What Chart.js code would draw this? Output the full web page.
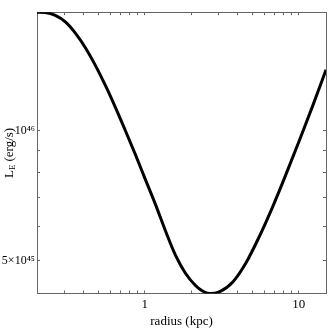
<!DOCTYPE html>
<html><head><meta charset="utf-8">
<script src="https://cdn.jsdelivr.net/npm/chart.js@4.4.1/dist/chart.umd.min.js"></script>
<style>html,body{margin:0;padding:0;background:#fff}#wrap{width:332px;height:332px;position:relative}</style>
</head><body><div id="wrap"><canvas id="c"></canvas></div>
<script>
// radius in kpc
const radius = [0.2, 0.2265, 0.2631, 0.3055, 0.3548, 0.4119, 0.4784, 0.5556, 0.6452, 0.7495, 0.8702, 1.0105, 1.1735, 1.3625, 1.5825, 1.8374, 2.1342, 2.3696, 2.6315, 3.0553, 3.7273, 4.5526, 5.5555, 6.7812, 8.2826, 10.104, 12.329, 15.0];
// L_E in erg/s
const luminosity = [1.8876e46, 1.8846e46, 1.8555e46, 1.7918e46, 1.6873e46, 1.5608e46, 1.4202e46, 1.2760e46, 1.1346e46, 1.0010e46, 0.8810e46, 0.7709e46, 0.6752e46, 0.5862e46, 0.5145e46, 0.4670e46, 0.4374e46, 0.4247e46, 0.4190e46, 0.4229e46, 0.4457e46, 0.4947e46, 0.5696e46, 0.6682e46, 0.7957e46, 0.9526e46, 1.1465e46, 1.3873e46];

const xTickValues = [0.3, 0.4, 0.5, 0.6, 0.7, 0.8, 0.9, 1, 2, 3, 4, 5, 6, 7, 8, 9, 10];
const xLabelValues = [1, 10];
const xLabelTexts = ['1', '10'];
const yTickValues = [5e45, 6e45, 7e45, 8e45, 9e45, 1e46];
const yLabelValues = [5e45, 1e46];
const yLabelTexts = ['5×10⁴⁵', '10⁴⁶'];
const xTitle = 'radius (kpc)';
const yTitleMain = 'L';
const yTitleSub = 'E';
const yTitleRest = ' (erg/s)';

const SERIF = '"Liberation Serif", "DejaVu Serif", serif';
const frameColor = '#666';

function labelFor(values, texts, v) {
  for (let i = 0; i < values.length; i++) {
    if (Math.abs(values[i] - v) / values[i] < 1e-6) return texts[i];
  }
  return '';
}

const yTitlePlugin = {
  id: 'yTitle',
  afterDraw(chart) {
    const ctx = chart.ctx, a = chart.chartArea;
    const main = '13px ' + SERIF, sub = '8.5px ' + SERIF;
    const parts = [[yTitleMain, main, 0], [yTitleSub, sub, 3], [yTitleRest, main, 0]];
    ctx.save();
    let w = 0;
    parts.forEach(p => { ctx.font = p[1]; w += ctx.measureText(p[0]).width; });
    ctx.translate(10, (a.top + a.bottom) / 2);
    ctx.rotate(-Math.PI / 2);
    ctx.fillStyle = '#000';
    ctx.textBaseline = 'middle';
    ctx.textAlign = 'left';
    let x = -w / 2;
    parts.forEach(p => { ctx.font = p[1]; ctx.fillText(p[0], x, p[2]); x += ctx.measureText(p[0]).width; });
    ctx.restore();
  }
};

const commonGrid = { drawOnChartArea: false, drawTicks: true, tickLength: -3, color: frameColor, tickColor: frameColor, lineWidth: 1 };
const commonBorder = { display: true, color: frameColor, width: 1 };

new Chart(document.getElementById('c'), {
  type: 'line',
  data: {
    datasets: [{
      data: radius.map((r, i) => ({ x: r, y: luminosity[i] })),
      borderColor: '#000',
      borderWidth: 3,
      pointRadius: 0,
      fill: false,
      cubicInterpolationMode: 'monotone'
    }]
  },
  options: {
    responsive: true,
    maintainAspectRatio: false,
    animation: false,
    devicePixelRatio: 1,
    layout: { padding: 0 },
    plugins: { legend: { display: false }, tooltip: { enabled: false } },
    scales: {
      x: {
        type: 'logarithmic', position: 'bottom', min: 0.2, max: 15,
        afterBuildTicks: s => { s.ticks = xTickValues.map(v => ({ value: v })); },
        afterFit: s => { s.height = 38.5; },
        ticks: {
          autoSkip: false, maxRotation: 0, padding: 6, color: '#000',
          font: { family: SERIF, size: 13 },
          callback: v => labelFor(xLabelValues, xLabelTexts, v)
        },
        grid: commonGrid, border: commonBorder,
        title: { display: true, text: xTitle, color: '#000', font: { family: SERIF, size: 13 }, padding: { top: 0, bottom: 3 } }
      },
      x2: {
        type: 'logarithmic', position: 'top', min: 0.2, max: 15,
        afterBuildTicks: s => { s.ticks = xTickValues.map(v => ({ value: v })); },
        afterFit: s => { s.height = 5; },
        ticks: { display: false },
        grid: commonGrid, border: commonBorder
      },
      y: {
        type: 'logarithmic', position: 'left', min: 4.19e45, max: 1.888e46,
        afterBuildTicks: s => { s.ticks = yTickValues.map(v => ({ value: v })); },
        afterFit: s => { s.width = 37; },
        ticks: {
          autoSkip: false, padding: 5, color: '#000',
          font: { family: SERIF, size: 12 },
          callback: v => labelFor(yLabelValues, yLabelTexts, v)
        },
        grid: commonGrid, border: commonBorder
      },
      y2: {
        type: 'logarithmic', position: 'right', min: 4.19e45, max: 1.888e46,
        afterBuildTicks: s => { s.ticks = yTickValues.map(v => ({ value: v })); },
        afterFit: s => { s.width = 6; },
        ticks: { display: false },
        grid: commonGrid, border: commonBorder
      }
    }
  },
  plugins: [yTitlePlugin]
});
</script>
</body></html>
